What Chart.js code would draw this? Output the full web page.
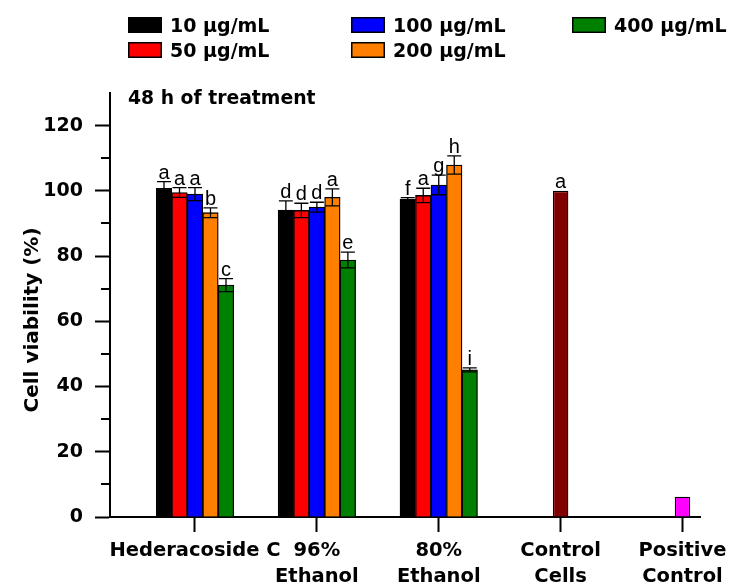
<!DOCTYPE html>
<html>
<head>
<meta charset="utf-8">
<script src="https://cdn.jsdelivr.net/npm/chart.js@4/dist/chart.umd.min.js"></script>
<style>
  html, body { margin: 0; padding: 0; background: #fff; }
  canvas { display: block; }
</style>
</head>
<body>
<canvas id="chart" width="732" height="588"></canvas>
<script>
// ---------------------------------------------------------------------------
// data (cell viability %, 48 h)
// ---------------------------------------------------------------------------
const groups = ["Hederacoside C", ["96%", "Ethanol"], ["80%", "Ethanol"], ["Control", "Cells"], ["Positive", "Control"]];
const concentrations = ["10 µg/mL", "50 µg/mL", "100 µg/mL", "200 µg/mL", "400 µg/mL"];

// per concentration: Hederacoside C, 96% Ethanol, 80% Ethanol
const conc10 = [100.8, 94.1, 97.5];
const conc50 = [99.5, 94.0, 98.6];
const conc100 = [99.0, 95.0, 101.8];
const conc200 = [93.3, 98.0, 107.9];
const conc400 = [71.1, 78.8, 45.1];

const sd10 = [2.0, 2.8, 0.4];
const sd50 = [1.5, 2.2, 2.2];
const sd100 = [2.0, 1.5, 3.0];
const sd200 = [1.5, 2.6, 2.8];
const sd400 = [2.0, 2.4, 0.6];

const letters10 = ["a", "d", "f"];
const letters50 = ["a", "d", "a"];
const letters100 = ["a", "d", "g"];
const letters200 = ["b", "a", "h"];
const letters400 = ["c", "e", "i"];

// Control Cells, Positive Control
const controlValues = [100, 6.2];
const controlSd = [0, 0];
const controlLetters = ["a", ""];

const yTicks = [0, 20, 40, 60, 80, 100, 120];

// ---------------------------------------------------------------------------
const FONT = "DejaVu Sans";
const LETTER_FONT = "Liberation Sans";
const BAR_W = 15.5;
const concColors = ["#000000", "#FF0000", "#0000FF", "#FF8000", "#008000"];
const controlColors = ["#800000", "#FF00FF"];

const concValues = [conc10, conc50, conc100, conc200, conc400];
const concSd = [sd10, sd50, sd100, sd200, sd400];
const concLetters = [letters10, letters50, letters100, letters200, letters400];

const datasets = concentrations.map((label, k) => ({
  label,
  data: concValues[k].map((v, i) => ({ x: i, y: v })),
  sd: concSd[k],
  letters: concLetters[k],
  backgroundColor: concColors[k],
  borderColor: "#000",
  borderWidth: 1.3,
  barThickness: BAR_W,
}));

// the two control bars sit alone on their own tick
datasets.push({
  label: "controls",
  data: controlValues.map((v, i) => ({ x: 3 + i, y: v })),
  sd: controlSd,
  letters: controlLetters,
  backgroundColor: controlColors,
  borderColor: "#000",
  borderWidth: 1.3,
  grouped: false,
  maxBarThickness: BAR_W,
});

// error bars + significance letters
const errorBars = {
  id: "errorBars",
  afterDatasetsDraw(chart) {
    const ctx = chart.ctx;
    const y = chart.scales.y;
    ctx.save();
    ctx.strokeStyle = "#000";
    ctx.lineWidth = 1.3;
    ctx.fillStyle = "#000";
    ctx.font = `20px "${LETTER_FONT}"`;
    ctx.textAlign = "center";
    ctx.textBaseline = "alphabetic";
    chart.data.datasets.forEach((ds, di) => {
      const meta = chart.getDatasetMeta(di);
      meta.data.forEach((bar, i) => {
        const v = ds.data[i].y;
        const sd = ds.sd[i];
        const top = y.getPixelForValue(v + sd);
        const bot = y.getPixelForValue(v - sd);
        if (sd > 0) {
          ctx.beginPath();
          ctx.moveTo(bar.x, top); ctx.lineTo(bar.x, bot);
          ctx.moveTo(bar.x - 7, top); ctx.lineTo(bar.x + 7, top);
          ctx.moveTo(bar.x - 7, bot); ctx.lineTo(bar.x + 7, bot);
          ctx.stroke();
        }
        if (ds.letters[i]) ctx.fillText(ds.letters[i], bar.x, top - 3);
      });
    });
    ctx.restore();
  },
};

// legend (3 columns, filled column by column), panel note, y title, minor ticks
const decorations = {
  id: "decorations",
  afterDraw(chart) {
    const ctx = chart.ctx;
    const y = chart.scales.y;
    const area = chart.chartArea;
    ctx.save();

    // minor ticks
    ctx.strokeStyle = "#000";
    ctx.lineWidth = 2;
    for (let k = 0; k < yTicks.length - 1; k++) {
      const py = Math.round(y.getPixelForValue((yTicks[k] + yTicks[k + 1]) / 2));
      ctx.beginPath();
      ctx.moveTo(area.left - 9, py); ctx.lineTo(area.left, py);
      ctx.stroke();
    }

    // legend
    const colX = [128, 351, 572];
    const rowY = [17, 42];
    ctx.font = `bold 19px "${FONT}"`;
    ctx.textAlign = "left";
    ctx.textBaseline = "alphabetic";
    concentrations.forEach((label, k) => {
      const x = colX[Math.floor(k / 2)];
      const top = rowY[k % 2];
      ctx.fillStyle = concColors[k];
      ctx.fillRect(x, top, 34, 16);
      ctx.lineWidth = 1.5;
      ctx.strokeStyle = "#000";
      ctx.strokeRect(x + 0.75, top + 0.75, 32.5, 14.5);
      ctx.fillStyle = "#000";
      ctx.fillText(label, x + 42, top + 15);
    });

    // panel note
    ctx.font = `bold 18.8px "${FONT}"`;
    ctx.fillText("48 h of treatment", 128, 104);

    // y axis title
    ctx.translate(33, 320);
    ctx.rotate(-Math.PI / 2);
    ctx.textAlign = "center";
    ctx.textBaseline = "middle";
    ctx.font = `bold 20px "${FONT}"`;
    ctx.fillText("Cell viability (%)", 0, 0);

    ctx.restore();
  },
};

Chart.defaults.color = "#000";
Chart.defaults.font.family = FONT;

new Chart(document.getElementById("chart"), {
  type: "bar",
  data: { datasets },
  plugins: [errorBars, decorations],
  options: {
    responsive: false,
    animation: false,
    layout: { padding: { top: 93, right: 32, bottom: 0, left: 0 } },
    plugins: { legend: { display: false }, tooltip: { enabled: false } },
    scales: {
      x: {
        type: "linear",
        offset: false,
        min: -0.6974,
        max: 4.1436,
        afterBuildTicks: (s) => { s.ticks = groups.map((_, i) => ({ value: i })); },
        afterFit: (s) => { s.height = 71; s.paddingLeft = 0; s.paddingRight = 0; },
        ticks: {
          autoSkip: false,
          minRotation: 0,
          maxRotation: 0,
          padding: 6,
          font: { size: 19.5, weight: "bold", lineHeight: 1.333 },
          callback: (v) => groups[v],
        },
        grid: { offset: false, drawOnChartArea: false, tickLength: 15, tickWidth: 2, tickColor: "#000" },
        border: { color: "#000", width: 2 },
      },
      y: {
        min: 0,
        max: 130,
        afterBuildTicks: (s) => { s.ticks = yTicks.map((v) => ({ value: v })); },
        afterFit: (s) => { s.width = 110; s.paddingTop = 0; s.paddingBottom = 0; },
        ticks: { padding: 12, font: { size: 19, weight: "bold" } },
        grid: { drawOnChartArea: false, tickLength: 15, tickWidth: 2, tickColor: "#000" },
        border: { color: "#000", width: 2 },
      },
    },
  },
});
</script>
</body>
</html>
